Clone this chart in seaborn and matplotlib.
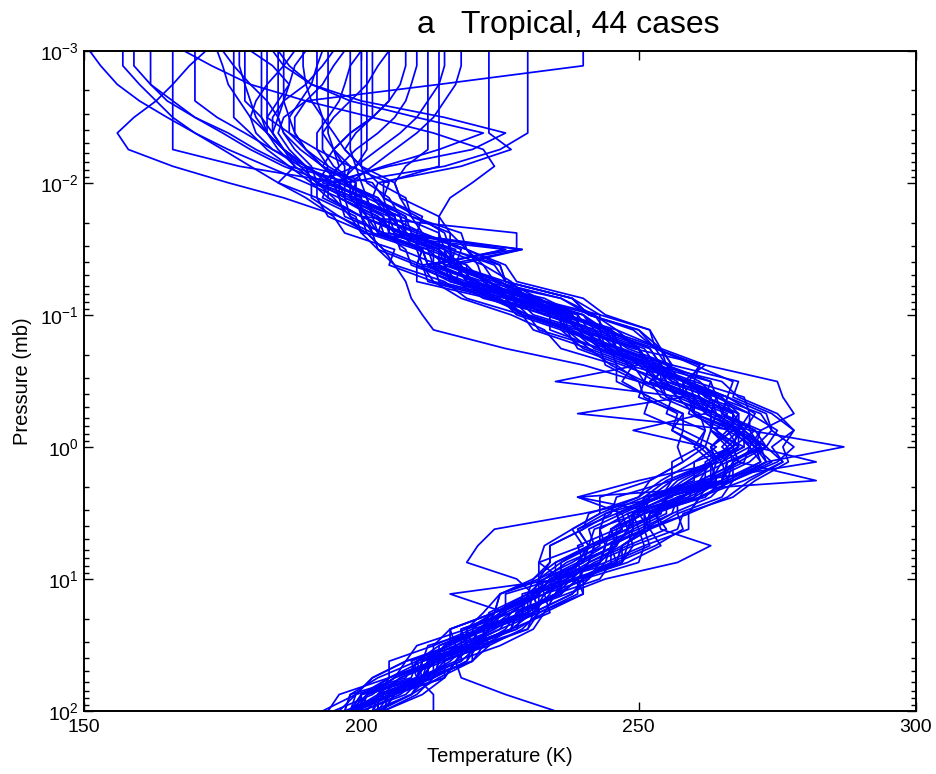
import matplotlib
matplotlib.use("Agg")
import numpy as np
import pandas as pd
import matplotlib.pyplot as plt
import seaborn as sns
from matplotlib.ticker import LogLocator, NullFormatter

# ---------------- data ----------------
TITLE = "a   Tropical, 44 cases"
X_LABEL = "Temperature (K)"
Y_LABEL = "Pressure (mb)"
X_TICKS = [150, 200, 250, 300]

# pressure levels (mb), bottom -> top
PRESSURE = [100, 75, 56, 42, 32, 24, 18, 13, 10, 7.5, 5.6, 4.2, 3.2, 2.4, 1.8, 1.3,
            1.0, 0.75, 0.56, 0.42, 0.32, 0.24, 0.18, 0.13, 0.10, 0.075, 0.056, 0.042,
            0.032, 0.024, 0.018, 0.013, 0.010, 0.0075, 0.0056, 0.0042, 0.0032,
            0.0024, 0.0018, 0.0013, 0.0010]

# temperature (K) of each case at the levels above
T01 = [198,199,209,210,219,218,227,232,233, 240,239,246,251,252,262,262,267,268,260,259,251, 249,243,234,234,222,217,209,208,204,197,196,190, 183,176,170,166,163,160,157,157]
T02 = [200,207,211,218,218,225,232,231,239, 245,245,251,252,261,263,270,273,267,267,265,258, 253,244,243,237,226,223,215,214,205,204,199,198, 187,181,176,170,166,162,159,159]
T03 = [197,198,203,210,217,216,224,230,231, 235,241,239,244,251,255,263,260,262,255,256,250, 246,245,238,229,226,216,210,211,202,200,193,194, 186,180,175,170,165,162,162,162]
T04 = [197,204,212,212,218,224,225,233,238, 247,247,251,256,257,267,273,271,268,270,264,261, 255,247,245,235,230,219,219,213,205,205,202,196, 178,166,166,166,166,166,166,166]
T05 = [204,205,215,217,219,228,233,235,243, 245,252,251,259,261,267,274,271,274,272,264,263, 255,253,243,243,231,225,217,218,211,205,204,202, 190,184,179,174,170,170,170,170]
T06 = [198,204,207,215,215,222,226,233,232, 234,234,240,241,250,252,258,262,256,257,251,250, 244,243,232,230,223,210,210,203,202,196,191,191, 187,183,180,177,177,177,177,177]
T07 = [203,203,211,212,221,223,227,236,236, 241,242,250,249,255,264,263,269,269,262,263,255, 253,245,237,237,228,217,218,210,207,200,200,195, 190,186,184,182,179,179,179,179]
T08 = [195,202,206,208,218,218,226,226,235, 235,242,247,246,254,256,263,267,263,264,255,254, 250,246,236,236,224,218,210,211,203,201,198,191, 190,186,183,182,182,182,182,182]
T09 = [204,206,210,217,220,228,229,236,239, 248,254,252,259,261,269,276,273,275,270,269,260, 261,253,249,241,238,226,225,216,215,210,204,205, 198,192,187,183,183,183,183,183]
T10 = [200,200,211,213,220,221,229,230,239, 241,248,249,249,259,265,266,273,269,265,264,256, 252,250,246,237,230,224,215,215,208,207,199,199, 193,189,186,185,185,185,185,185]
T11 = [193,199,202,208,210,219,222,225,232, 232,233,238,243,243,252,258,257,258,251,252,246, 246,236,233,227,218,213,205,206,197,195,190,185, 188,186,184,185,186,186,186,186]
T12 = [204,211,215,217,225,231,233,240,240, 250,251,259,259,266,270,276,274,278,274,267,268, 256,254,244,242,236,222,221,219,211,209,202,203, 200,197,195,193,191,190,189.5,189.5]
T13 = [200,201,211,210,217,222,224,233,236, 236,242,241,247,254,257,264,262,263,263,255,253, 254,246,244,237,226,222,219,212,211,202,201,197, 197,195,193,193,192,192,192,192]
T14 = [199,206,213,214,223,222,231,234,235, 243,246,246,254,255,265,267,266,269,267,259,258, 254,252,244,237,232,226,217,216,209,208,202,197, 198,195,194,194,194,194,194,194]
T15 = [198,201,205,213,215,223,224,231,236, 232,240,238,243,250,254,260,264,258,258,250,251, 252,244,240,231,228,218,212,211,208,200,199,192, 199,198,198,198,198,198,198,198]
T16 = [202,204,213,219,220,227,228,236,239, 247,248,255,253,261,267,273,272,269,271,266,259, 261,253,252,243,238,226,225,219,218,209,207,206, 200,200,200,200,200,200,200,200]
T17 = [196,199,202,208,216,216,224,225,233, 237,244,245,251,251,261,263,268,266,259,260,254, 256,246,244,240,229,223,216,217,208,205,203,196, 199,201,201,201,201,201,201,201]
T18 = [203,209,211,220,223,229,232,240,239, 246,245,251,252,260,265,266,273,271,265,266,258, 255,254,246,242,230,227,222,215,214,207,205,201, 200,197,199,202,202,202,202,202]
T19 = [202,203,207,214,217,224,229,229,238, 239,241,248,250,251,263,265,268,264,266,258,257, 251,250,239,236,230,219,217,210,210,202,201,193, 196,195,198,202,205,205,205,205]
T20 = [198,206,211,213,221,220,230,235,236, 244,245,249,255,255,265,266,272,270,263,264,258, 262,254,252,244,240,228,226,219,216,214,207,206, 208,212,212,212,212,212,212,212]
T21 = [198,200,210,209,216,222,225,231,232, 236,241,239,246,252,256,264,261,262,261,254,252, 256,254,250,241,236,224,222,219,210,211,204,204, 214,214,214,214,214,214,214,214]
T22 = [203,209,212,220,220,227,231,238,240, 246,253,258,257,265,267,275,278,274,273,266,267, 260,253,250,241,238,226,224,216,216,209,208,203, 218,227,223,223,223,223,223,223]
T23 = [200,201,206,213,220,219,227,232,234, 240,241,248,249,253,264,263,268,268,262,260,252, 256,248,243,240,228,223,217,229,207,206,203,197, 215,225,230,230,230,230,230,230]
T24 = [200,208,211,213,221,223,232,231,239, 246,247,252,257,257,266,272,271,272,265,266,259, 248,246,242,233,224,220,214,207,206,203,196,195, 190,187,185,186,190,214,240,240]
T25 = [197,198,208,210,214,222,223,230,233, 239,241,242,250,251,260,260,267,264,260,260,251, 245,241,231,229,219,215,206,204,201,194,192,185, 180,175,170,165,160,156,153,151]
T26 = [199,205,212,212,220,223,232,232,235, 240,246,245,249,252,263,264,269,263,264,261,253, 248,240,236,228,225,213,211,204,201,196,186,176, 166,158,156,159,163,166,169,172]
T27 = [202,209,214,220,222,230,231,238,241, 243,244,251,251,260,262,269,270,267,267,261,250, 240,226,213,211,209,208,206,203,200,198,195,192, 189,186,183,180,178,176,175,174]
T28 = [199,201,206,214,214,221,225,232,232, 238,243,243,244,254,259,264,263,267,260,257,255, 247,239,237,229,224,212,211,228,228,200,194,191, 190,186,183,181,180,179,178,178]
T29 = [201,203,213,214,223,222,230,235,240, 239,246,248,253,255,266,265,270,268,262,263,258, 252,244,242,235,226,221,212,226,207,200,200,194, 205,220,226,215,200,191,186,184]
T30 = [204,206,215,215,222,227,234,233,241, 244,251,250,256,263,266,273,287,270,270,262,263, 252,250,240,238,232,219,217,214,207,206,198,198, 193,190,188,187,186,187,188,190]
T31 = [198,205,210,211,219,225,227,232,234, 243,244,252,251,259,261,282,271,268,268,260,259, 251,243,239,230,227,217,212,211,202,201,199,192, 194,192,192,194,196,197,198,200]
T32 = [203,203,211,216,219,227,228,235,237, 242,249,248,254,239,282,268,273,268,268,265,256, 254,246,239,239,227,221,214,214,207,202,201,194, 190,186,184,184,186,190,193,195]
T33 = [199,201,210,212,215,222,230,230,235, 246,247,252,252,262,265,272,270,272,278,276,275, 262,249,239,237,227,222,213,213,206,205,197,197, 189,184,181,180,181,183,186,188]
T34 = [198,204,213,213,220,221,231,233,238, 239,246,245,251,258,261,268,267,268,239,258,235, 250,247,237,235,224,221,213,212,203,202,196,196, 193,190,188,188,190,193,195,197]
T35 = [203,205,210,218,221,226,228,237,244, 257,263,254,253,255,267,267,272,267,267,261,260, 252,250,245,237,230,225,216,215,208,207,198,199, 195,193,193,195,198,201,203,205]
T36 = [198,200,205,213,213,220,224,231,228, 219,221,224,240,254,258,264,263,267,260,259,251, 252,244,242,234,230,217,215,212,203,204,197,196, 193,195,198,202,205,207,208,208]
T37 = [199,200,210,211,212,222,226,216,236, 239,246,245,251,258,261,268,265,268,264,258,258, 250,242,238,230,224,219,211,210,201,200,194,194, 196,199,203,206,208,209,210,210]
T38 = [235,226,218,217,219,227,228,235,237, 243,244,249,248,258,263,268,267,271,264,263,255, 254,252,242,240,231,225,216,216,208,208,201,200, 199,203,207,210,212,214,215,215]
T39 = [213,213,210,211,220,221,231,230,237, 239,244,243,248,256,259,266,263,266,264,257,254, 254,246,245,236,231,219,217,214,207,206,198,198, 202,206,210,213,215,217,218,218]
T40 = [199,206,210,212,222,222,230,231,239, 241,242,248,247,239,250,265,262,249,262,261,254, 251,244,237,236,223,218,212,211,204,198,197,192, 191,188,186,185,183,180,177,175]
T41 = [203,203,212,215,219,227,228,235,238, 241,247,252,250,257,266,267,271,266,268,262,259, 252,250,240,238,228,223,216,214,214,214,216,220, 224,222,213,202,190,180,173,168]
T42 = [198,203,205,211,219,219,224,232,234, 240,241,247,246,254,263,263,266,263,263,261,253, 251,243,241,233,228,216,215,229,204,203,196,195, 204,214,222,210,198,191,187,185]
T43 = [204,210,213,219,221,230,232,239,239, 247,249,257,258,267,271,277,276,278,275,268,265, 253,251,241,239,233,220,218,215,208,207,199,199, 194,190,187,187,189,191,192,193]
T44 = [194,196,205,205,213,216,224,225,231, 234,234,240,245,246,256,256,261,256,258,252,247, 249,241,237,229,226,214,213,226,200,199,192,192, 188,185,183,183,185,187,184,180]

PROFILES = [T01, T02, T03, T04, T05, T06, T07, T08, T09, T10, T11, T12, T13, T14, T15,
            T16, T17, T18, T19, T20, T21, T22, T23, T24, T25, T26, T27, T28, T29, T30,
            T31, T32, T33, T34, T35, T36, T37, T38, T39, T40, T41, T42, T43, T44]

# ---------------- build long-form table ----------------
rows = []
for k, temps in enumerate(PROFILES):
    assert len(temps) == len(PRESSURE), (k + 1, len(temps))
    for p, t in zip(PRESSURE, temps):
        rows.append((k, p, t))
df = pd.DataFrame(rows, columns=["case", "pressure", "temperature"])

# ---------------- style ----------------
sns.set_theme(style="ticks")
plt.rcParams["font.family"] = ["Liberation Sans", "DejaVu Sans"]
plt.rcParams["mathtext.fontset"] = "custom"
plt.rcParams["mathtext.rm"] = "Liberation Sans"
plt.rcParams["mathtext.it"] = "Liberation Sans:italic"
plt.rcParams["mathtext.bf"] = "Liberation Sans:bold"
plt.rcParams["axes.unicode_minus"] = True

W, H = 936, 774
fig = plt.figure(figsize=(W / 100, H / 100), dpi=100)
fig.patch.set_facecolor("white")
ax = fig.add_axes([84 / W, 1 - 711 / H, 832 / W, 660.3 / H])
ax.set_facecolor("white")
ax.set_yscale("log")

sns.lineplot(data=df, x="temperature", y="pressure", units="case",
             estimator=None, sort=False, color="#0000FF", linewidth=1.25,
             ax=ax, legend=False)

ax.set_xlim(150, 300)
ax.set_ylim(100, 1e-3)
ax.set_xticks(X_TICKS)
ax.set_xticklabels([str(v) for v in X_TICKS])
ax.yaxis.set_major_locator(LogLocator(base=10, numticks=12))
ax.yaxis.set_minor_locator(LogLocator(base=10, subs=np.arange(2, 10), numticks=12))
ax.yaxis.set_minor_formatter(NullFormatter())

ax.tick_params(which="both", direction="in", top=True, right=True,
               color="black", labelcolor="black", width=1.0)
ax.tick_params(which="major", length=6.3, labelsize=14)
ax.tick_params(which="minor", length=3.6)
ax.tick_params(axis="x", which="major", pad=6)
ax.tick_params(axis="y", which="major", pad=4)

for s in ax.spines.values():
    s.set_visible(True)
    s.set_linewidth(1.4)
    s.set_color("black")

ax.set_xlabel(X_LABEL, fontsize=14.5, color="black")
ax.set_ylabel(Y_LABEL, fontsize=14.5, color="black")
ax.xaxis.set_label_coords(0.5, -0.054)
ax.yaxis.set_label_coords(-0.062, 0.5)
ax.grid(False)

fig.text(568.5 / W, 1 - 33 / H, TITLE, ha="center", va="baseline",
         fontsize=23, color="black")

fig.savefig("out.png", dpi=100, facecolor="white")
